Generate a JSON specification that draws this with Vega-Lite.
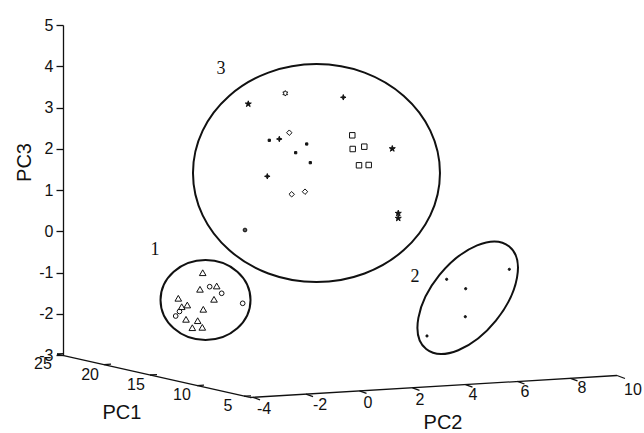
{
  "$schema": "https://vega.github.io/schema/vega-lite/v6.json",
  "width": 581,
  "height": 330,
  "autosize": {"type": "none"},
  "padding": {"left": 63, "top": 25, "right": 0, "bottom": 78},
  "background": "white",
  "config": {"view": {"stroke": null}, "font": "Liberation Sans"},
  "datasets": {
    "axislines": [
      {"part": "PC1 axis", "u": -0.145, "v": -2.976, "u2": 4.533, "v2": -4.03},
      {"part": "PC2 axis", "u": 4.533, "v": -4.03, "u2": 13.43, "v2": -3.497},
      {"part": "PC1 25", "u": -0.145, "v": -2.976, "u2": 0.024, "v2": -2.966},
      {"part": "PC1 20", "u": 0.994, "v": -3.233, "u2": 1.164, "v2": -3.223},
      {"part": "PC1 15", "u": 2.109, "v": -3.485, "u2": 2.279, "v2": -3.475},
      {"part": "PC1 10", "u": 3.248, "v": -3.742, "u2": 3.418, "v2": -3.732},
      {"part": "PC1 5", "u": 4.388, "v": -3.999, "u2": 4.558, "v2": -3.989},
      {"part": "PC2 -4", "u": 4.606, "v": -4.025, "u2": 4.776, "v2": -4.086},
      {"part": "PC2 -2", "u": 5.891, "v": -3.948, "u2": 6.061, "v2": -4.008},
      {"part": "PC2 0", "u": 7.188, "v": -3.87, "u2": 7.358, "v2": -3.931},
      {"part": "PC2 2", "u": 8.473, "v": -3.795, "u2": 8.642, "v2": -3.856},
      {"part": "PC2 4", "u": 9.758, "v": -3.718, "u2": 9.927, "v2": -3.778},
      {"part": "PC2 6", "u": 11.018, "v": -3.642, "u2": 11.188, "v2": -3.703},
      {"part": "PC2 8", "u": 12.303, "v": -3.565, "u2": 12.473, "v2": -3.625},
      {"part": "PC2 10", "u": 13.43, "v": -3.497, "u2": 13.624, "v2": -3.57}
    ],
    "ticklabels": [
      {"t": "25", "u": -0.485, "v": -3.225},
      {"t": "20", "u": 0.655, "v": -3.473},
      {"t": "15", "u": 1.77, "v": -3.739},
      {"t": "10", "u": 2.885, "v": -3.97},
      {"t": "5", "u": 4.0, "v": -4.236},
      {"t": "-4", "u": 4.873, "v": -4.309},
      {"t": "-2", "u": 6.23, "v": -4.212},
      {"t": "0", "u": 7.394, "v": -4.152},
      {"t": "2", "u": 8.655, "v": -4.079},
      {"t": "4", "u": 9.939, "v": -3.97},
      {"t": "6", "u": 11.2, "v": -3.885},
      {"t": "8", "u": 12.582, "v": -3.812},
      {"t": "10", "u": 13.818, "v": -3.848}
    ],
    "axistitles": [
      {"t": "PC1", "u": 1.43, "v": -4.418},
      {"t": "PC2", "u": 9.212, "v": -4.66}
    ],
    "clusters": [
      {"cluster": "1", "u": 3.455, "v": -1.667, "lu": 2.23, "lv": -0.455},
      {"cluster": "2", "u": 9.811, "v": -1.613, "lu": 8.533, "lv": -1.097},
      {"cluster": "3", "u": 6.145, "v": 1.412, "lu": 3.83, "lv": 3.933}
    ],
    "points": [
      {"class": "A", "u": 3.387, "v": -1.005},
      {"class": "A", "u": 3.321, "v": -1.407},
      {"class": "A", "u": 3.726, "v": -1.327},
      {"class": "A", "u": 3.661, "v": -1.65},
      {"class": "A", "u": 2.795, "v": -1.625},
      {"class": "A", "u": 3.013, "v": -1.788},
      {"class": "A", "u": 2.878, "v": -1.829},
      {"class": "A", "u": 3.401, "v": -1.892},
      {"class": "A", "u": 2.982, "v": -2.135},
      {"class": "A", "u": 3.265, "v": -2.168},
      {"class": "A", "u": 3.135, "v": -2.338},
      {"class": "A", "u": 3.377, "v": -2.329},
      {"class": "B", "u": 3.556, "v": -1.344},
      {"class": "B", "u": 3.847, "v": -1.504},
      {"class": "B", "u": 4.356, "v": -1.747},
      {"class": "B", "u": 2.732, "v": -2.055},
      {"class": "B", "u": 2.824, "v": -1.945},
      {"class": "C", "u": 4.492, "v": 3.085},
      {"class": "C", "u": 7.983, "v": 2.001},
      {"class": "C", "u": 8.128, "v": 0.435},
      {"class": "C", "u": 8.128, "v": 0.314},
      {"class": "D", "u": 5.389, "v": 3.344},
      {"class": "E", "u": 6.795, "v": 3.247},
      {"class": "E", "u": 5.244, "v": 2.236},
      {"class": "E", "u": 4.953, "v": 1.332},
      {"class": "F", "u": 5.486, "v": 2.389},
      {"class": "F", "u": 5.544, "v": 0.896},
      {"class": "F", "u": 5.867, "v": 0.959},
      {"class": "G", "u": 5.001, "v": 2.205},
      {"class": "G", "u": 5.908, "v": 2.115},
      {"class": "G", "u": 5.641, "v": 1.904},
      {"class": "G", "u": 5.995, "v": 1.662},
      {"class": "H", "u": 7.013, "v": 2.326},
      {"class": "H", "u": 7.023, "v": 1.994},
      {"class": "H", "u": 7.304, "v": 2.05},
      {"class": "H", "u": 7.176, "v": 1.599},
      {"class": "H", "u": 7.411, "v": 1.606},
      {"class": "I", "u": 9.301, "v": -1.165},
      {"class": "I", "u": 9.762, "v": -1.393},
      {"class": "I", "u": 10.82, "v": -0.923},
      {"class": "I", "u": 9.753, "v": -2.072},
      {"class": "I", "u": 8.824, "v": -2.539},
      {"class": "J", "u": 4.412, "v": 0.03}
    ]
  },
  "encoding": {
    "x": {"field": "u", "type": "quantitative", "scale": {"domain": [0, 14.085], "nice": false, "zero": false}, "axis": null},
    "y": {
      "field": "v", "type": "quantitative",
      "scale": {"domain": [-3, 5], "nice": false, "zero": false},
      "axis": {
        "values": [-3, -2, -1, 0, 1, 2, 3, 4, 5],
        "grid": false,
        "domainColor": "#111", "domainWidth": 1.3,
        "tickColor": "#111", "tickWidth": 1.3, "tickSize": 7,
        "labelFont": "Liberation Sans", "labelFontSize": 16, "labelColor": "#111", "labelPadding": 3,
        "labelFlush": false, "labelOverlap": false, "labelBound": false,
        "labelExpr": "toString(datum.value)",
        "title": "PC3", "titleFont": "Liberation Sans", "titleFontSize": 20, "titleFontWeight": "normal",
        "titleColor": "#111", "titleAngle": -90, "titleX": -33, "titleY": 137,
        "titleAlign": "center", "titleBaseline": "alphabetic"
      }
    }
  },
  "layer": [
    {
      "data": {"name": "axislines"},
      "mark": {"type": "rule", "color": "#111", "strokeWidth": 1.3},
      "encoding": {"x2": {"field": "u2"}, "y2": {"field": "v2"}}
    },
    {
      "data": {"name": "ticklabels"},
      "mark": {"type": "text", "font": "Liberation Sans", "fontSize": 16, "color": "#111", "align": "center", "baseline": "middle"},
      "encoding": {"text": {"field": "t"}}
    },
    {
      "data": {"name": "axistitles"},
      "mark": {"type": "text", "font": "Liberation Sans", "fontSize": 20, "color": "#111", "align": "center", "baseline": "middle"},
      "encoding": {"text": {"field": "t"}}
    },
    {
      "data": {"name": "clusters"},
      "transform": [{"filter": "datum.cluster == '3'"}],
      "mark": {"type": "point", "filled": false, "stroke": "#111", "strokeWidth": 2, "opacity": 1, "size": 61009,
        "shape": "M -1 0 C -1 -0.4875 -0.5523 -0.8826 0 -0.8826 C 0.5523 -0.8826 1 -0.4875 1 0 C 1 0.4875 0.5523 0.8826 0 0.8826 C -0.5523 0.8826 -1 0.4875 -1 0 Z"}
    },
    {
      "data": {"name": "clusters"},
      "transform": [{"filter": "datum.cluster == '1'"}],
      "mark": {"type": "point", "filled": false, "stroke": "#111", "strokeWidth": 2, "opacity": 1, "size": 8100,
        "shape": "M -1 0 C -1 -0.4909 -0.5523 -0.8889 0 -0.8889 C 0.5523 -0.8889 1 -0.4909 1 0 C 1 0.4909 0.5523 0.8889 0 0.8889 C -0.5523 0.8889 -1 0.4909 -1 0 Z"}
    },
    {
      "data": {"name": "clusters"},
      "transform": [{"filter": "datum.cluster == '2'"}],
      "mark": {"type": "point", "filled": false, "stroke": "#111", "strokeWidth": 2, "opacity": 1, "size": 17424, "angle": -51,
        "shape": "M -1 0 C -1 -0.3038 -0.5523 -0.55 0 -0.55 C 0.5523 -0.55 1 -0.3038 1 0 C 1 0.3038 0.5523 0.55 0 0.55 C -0.5523 0.55 -1 0.3038 -1 0 Z"}
    },
    {
      "data": {"name": "clusters"},
      "mark": {"type": "text", "font": "Liberation Serif", "fontSize": 18, "color": "#111", "align": "center", "baseline": "middle"},
      "encoding": {
        "x": {"field": "lu", "type": "quantitative"},
        "y": {"field": "lv", "type": "quantitative"},
        "text": {"field": "cluster"}
      }
    },
    {
      "data": {"name": "points"},
      "mark": {"type": "point", "filled": true, "stroke": "#111", "strokeWidth": 1, "opacity": 1},
      "encoding": {
        "shape": {
          "field": "class", "type": "nominal", "legend": null,
          "scale": {
            "domain": ["A", "B", "C", "D", "E", "F", "G", "H", "I", "J"],
            "range": [
              "triangle-up",
              "circle",
              "M0,-1 L0.225,-0.309 L0.951,-0.309 L0.363,0.118 L0.588,0.809 L0,0.382 L-0.588,0.809 L-0.363,0.118 L-0.951,-0.309 L-0.225,-0.309 Z",
              "M0,-1 L0.289,-0.5 L0.866,-0.5 L0.577,0 L0.866,0.5 L0.289,0.5 L0,1 L-0.289,0.5 L-0.866,0.5 L-0.577,0 L-0.866,-0.5 L-0.289,-0.5 Z",
              "M0,-1 L0.25,-0.25 L1,0 L0.25,0.25 L0,1 L-0.25,0.25 L-1,0 L-0.25,-0.25 Z",
              "diamond",
              "square",
              "square",
              "circle",
              "circle"
            ]
          }
        },
        "size": {
          "field": "class", "type": "nominal", "legend": null,
          "scale": {"type": "ordinal", "domain": ["A", "B", "C", "D", "E", "F", "G", "H", "I", "J"], "range": [44, 22, 40, 30, 30, 30, 5, 30, 5, 14]}
        },
        "fill": {
          "field": "class", "type": "nominal", "legend": null,
          "scale": {"domain": ["A", "B", "C", "D", "E", "F", "G", "H", "I", "J"],
            "range": ["transparent", "transparent", "#111", "transparent", "#111", "transparent", "#111", "transparent", "#111", "#555"]}
        }
      }
    }
  ]
}
